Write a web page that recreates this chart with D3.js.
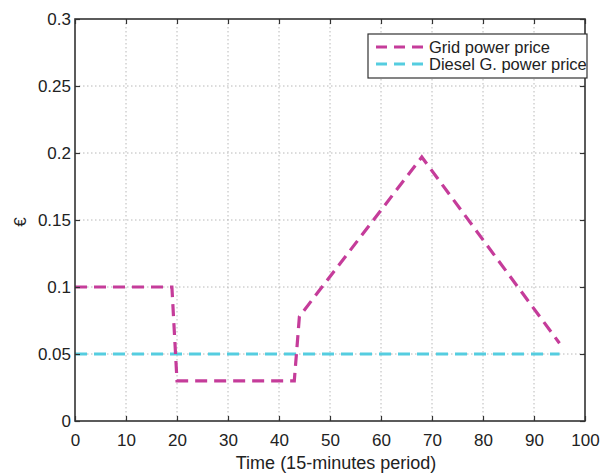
<!DOCTYPE html>
<html>
<head>
<meta charset="utf-8">
<script src="https://cdn.jsdelivr.net/npm/d3@7"></script>
<style>
  html, body { margin: 0; padding: 0; background: #fff; }
  svg { display: block; font-family: "Liberation Sans", Arial, sans-serif; }
</style>
</head>
<body>
<svg id="chart" width="603" height="475"></svg>
<script>
// Price breakpoints over the day (15-minute periods)
const gridTime  = [0, 19, 20, 43, 44, 68, 95];
const gridPrice = [0.1, 0.1, 0.03, 0.03, 0.078, 0.197, 0.058];
const dieselTime  = [0, 95];
const dieselPrice = [0.05, 0.05];

const xTicks = [0, 10, 20, 30, 40, 50, 60, 70, 80, 90, 100];
const yTicks = [0, 0.05, 0.1, 0.15, 0.2, 0.25, 0.3];
const yTickLabels = ["0", "0.05", "0.1", "0.15", "0.2", "0.25", "0.3"];
const seriesNames = ["Grid power price", "Diesel G. power price"];
const seriesColors = ["#c53c9a", "#55cde0"];

const svg = d3.select("#chart");
const m = { left: 75, right: 585, top: 19, bottom: 421 };

const x = d3.scaleLinear().domain([0, 100]).range([m.left, m.right]);
const y = d3.scaleLinear().domain([0, 0.3]).range([m.bottom, m.top]);

// grid
const grid = svg.append("g").attr("stroke", "#b8b8b8").attr("stroke-width", 1)
  .attr("stroke-dasharray", "1.5,2.5");
grid.selectAll("line.v").data(xTicks.slice(1, -1)).join("line")
  .attr("x1", d => x(d)).attr("x2", d => x(d))
  .attr("y1", m.top).attr("y2", m.bottom);
grid.selectAll("line.h").data(yTicks.slice(1, -1)).join("line")
  .attr("y1", d => y(d)).attr("y2", d => y(d))
  .attr("x1", m.left).attr("x2", m.right);

// series
const line = d3.line().x(d => x(d[0])).y(d => y(d[1]));
svg.append("path")
  .datum(dieselTime.map((t, i) => [t, dieselPrice[i]]))
  .attr("d", line).attr("fill", "none")
  .attr("stroke", seriesColors[1]).attr("stroke-width", 3)
  .attr("stroke-dasharray", "12,7");
svg.append("path")
  .datum(gridTime.map((t, i) => [t, gridPrice[i]]))
  .attr("d", line).attr("fill", "none")
  .attr("stroke", seriesColors[0]).attr("stroke-width", 3.2)
  .attr("stroke-dasharray", "12,7");

// axes with inward ticks on all four sides
const tickLen = 5;
const axB = d3.axisBottom(x).tickValues(xTicks).tickSize(-tickLen).tickPadding(13);
const axT = d3.axisTop(x).tickValues(xTicks).tickSize(-tickLen).tickFormat("");
const axL = d3.axisLeft(y).tickValues(yTicks).tickSize(-tickLen).tickPadding(4)
  .tickFormat((d) => yTickLabels[yTicks.indexOf(d)]);
const axR = d3.axisRight(y).tickValues(yTicks).tickSize(-tickLen).tickFormat("");

function style(g) {
  g.select(".domain").remove();
  g.selectAll(".tick line").attr("stroke", "#333").attr("stroke-width", 1.2);
  g.selectAll(".tick text").attr("fill", "#222").attr("font-size", 17);
}
svg.append("g").attr("transform", `translate(0,${m.bottom})`).call(axB).call(style);
svg.append("g").attr("transform", `translate(0,${m.top})`).call(axT).call(style);
svg.append("g").attr("transform", `translate(${m.left},0)`).call(axL).call(style);
svg.append("g").attr("transform", `translate(${m.right},0)`).call(axR).call(style);

// frame
svg.append("rect")
  .attr("x", m.left).attr("y", m.top)
  .attr("width", m.right - m.left).attr("height", m.bottom - m.top)
  .attr("fill", "none").attr("stroke", "#333").attr("stroke-width", 1.6);

// axis titles
svg.append("text")
  .attr("x", 336).attr("y", 469)
  .attr("text-anchor", "middle").attr("font-size", 18).attr("fill", "#222")
  .text("Time (15-minutes period)");
svg.append("text")
  .attr("transform", "translate(26,222) rotate(-90)")
  .attr("text-anchor", "middle").attr("font-size", 17).attr("fill", "#222")
  .text("€");

// legend
const lg = svg.append("g");
lg.append("rect").attr("x", 368).attr("y", 34).attr("width", 219).attr("height", 44)
  .attr("fill", "#fff").attr("stroke", "#333").attr("stroke-width", 1.2);
seriesNames.forEach((name, i) => {
  const yy = 47 + i * 17;
  lg.append("line").attr("x1", 376).attr("x2", 427).attr("y1", yy).attr("y2", yy)
    .attr("stroke", seriesColors[i]).attr("stroke-width", 3)
    .attr("stroke-dasharray", "11,7");
  lg.append("text").attr("x", 429).attr("y", yy).attr("dy", "0.35em")
    .attr("font-size", 16.5).attr("fill", "#222").text(name);
});
</script>
</body>
</html>
